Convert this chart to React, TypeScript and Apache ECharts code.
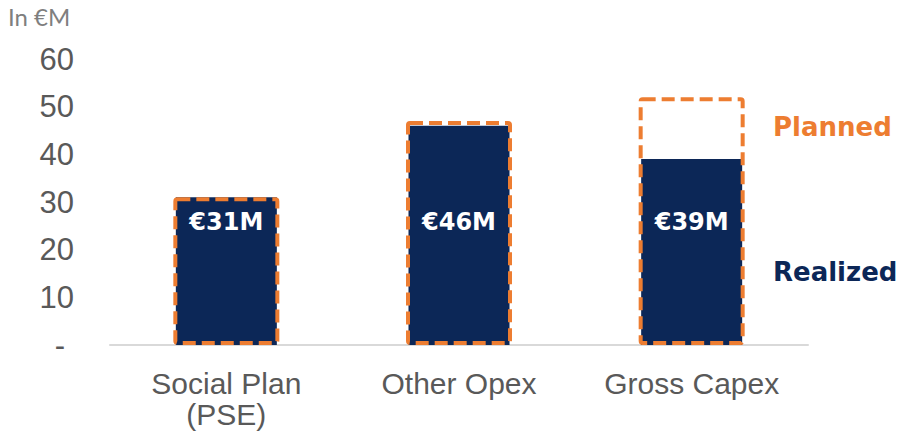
import React, { useEffect, useRef } from "react";
import * as echarts from "echarts";

const categories = ["Social Plan\n(PSE)", "Other Opex", "Gross Capex"];
const realized = [31, 46, 39];
const planned = [31, 47, 52];
const yTicks = { min: 0, max: 60, interval: 10 };

const NAVY = "#0C2757";
const ORANGE = "#ED7D31";
const GRAY = "#595959";

export default function App() {
  const ref = useRef<HTMLDivElement>(null);
  useEffect(() => {
    document.body.style.margin = "0";
    if (!ref.current) return;
    const chart = echarts.init(ref.current, null, { renderer: "svg" });
    chart.setOption({
      animation: false,
      grid: { left: 110, right: 92, top: 59, bottom: 91 },
      xAxis: [
        {
          type: "category",
          data: categories,
          axisLine: { show: true, lineStyle: { color: "#D9D9D9", width: 2 } },
          axisTick: { show: false },
          axisLabel: {
            interval: 0,
            hideOverlap: false,
            color: GRAY,
            fontSize: 30,
            fontFamily: "Liberation Sans, Arial, sans-serif",
            lineHeight: 31,
            margin: 23,
          },
          z: 1,
        },
        {
          type: "category",
          data: categories,
          show: false,
        },
      ],
      yAxis: {
        type: "value",
        min: yTicks.min,
        max: yTicks.max,
        interval: yTicks.interval,
        splitLine: { show: false },
        axisLine: { show: false },
        axisTick: { show: false },
        axisLabel: {
          margin: 36,
          color: GRAY,
          fontSize: 31,
          fontFamily: "Liberation Sans, Arial, sans-serif",
          formatter: (v: number) => (v === 0 ? "{d|-}" : String(v)),
          rich: {
            d: {
              color: GRAY,
              fontSize: 31,
              fontFamily: "Liberation Sans, Arial, sans-serif",
              padding: [0, 9, 0, 0],
            },
          },
        },
      },
      series: [
        {
          name: "Realized",
          type: "bar",
          xAxisIndex: 0,
          data: realized,
          barWidth: 101,
          itemStyle: { color: NAVY },
          z: 2,
          label: {
            show: true,
            position: "insideBottom",
            distance: 111,
            formatter: "€{c}M",
            color: "#FFFFFF",
            fontWeight: "bold",
            fontSize: 24,
            fontFamily: "DejaVu Sans, sans-serif",
          },
        },
        {
          name: "Planned",
          type: "bar",
          xAxisIndex: 1,
          data: planned,
          barWidth: 106,
          itemStyle: {
            color: "rgba(0,0,0,0)",
            borderColor: ORANGE,
            borderWidth: 4,
            borderType: [13, 6],
            borderRadius: 2,
          },
          z: 3,
        },
      ],
      graphic: [
        {
          type: "text",
          left: 8,
          top: 4,
          style: {
            text: "In €M",
            fill: "#7F7F7F",
            fontSize: 24,
            fontFamily: "Lato, Noto Sans, sans-serif",
          },
        },
        {
          type: "text",
          left: 773,
          top: 114,
          style: {
            text: "Planned",
            fill: ORANGE,
            fontSize: 26,
            fontWeight: "bold",
            fontFamily: "DejaVu Sans, sans-serif",
          },
        },
        {
          type: "text",
          left: 773,
          top: 259,
          style: {
            text: "Realized",
            fill: NAVY,
            fontSize: 26,
            fontWeight: "bold",
            fontFamily: "DejaVu Sans, sans-serif",
          },
        },
      ],
    });
    return () => chart.dispose();
  }, []);
  return <div ref={ref} style={{ width: 900, height: 436 }} />;
}
